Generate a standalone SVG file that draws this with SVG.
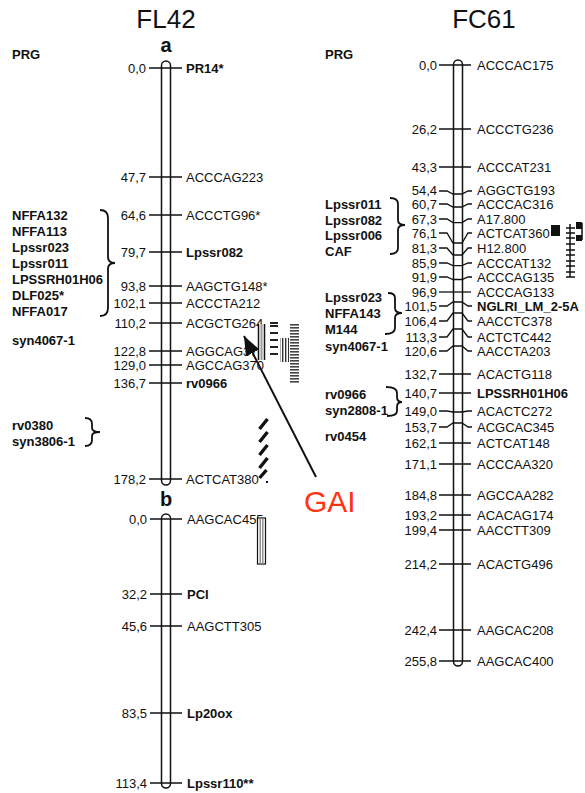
<svg xmlns="http://www.w3.org/2000/svg" width="585" height="793" viewBox="0 0 585 793">
<style>
text{font-family:"Liberation Sans",Arial,sans-serif;fill:#111}
.t{font-size:26px}
.n{font-size:13px}
.r{text-anchor:end}
.b{font-weight:bold}
.chr{fill:#fff;stroke:#111;stroke-width:1.5}
.tk{fill:none;stroke:#111;stroke-width:1.3}
.br{fill:none;stroke:#111;stroke-width:1.8}
</style>
<defs>
<marker id="ah" markerUnits="userSpaceOnUse" markerWidth="20" markerHeight="16" refX="19" refY="7.5" orient="auto">
<path d="M0,0 L19,7.5 L0,15 z" fill="#111"/>
</marker>
<pattern id="hstripe" patternUnits="userSpaceOnUse" width="10" height="3">
<rect width="10" height="3" fill="#fff"/><rect width="10" height="1.6" fill="#444"/>
</pattern>
<pattern id="vstripe" patternUnits="userSpaceOnUse" width="3" height="10">
<rect width="3" height="10" fill="#fff"/><rect width="1.4" height="10" fill="#333"/>
</pattern>
</defs>

<g id="titles">
<text class="t" x="166" y="28" text-anchor="middle">FL42</text>
<text class="t" x="484" y="28" text-anchor="middle">FC61</text>
<text x="166" y="52" text-anchor="middle" font-size="20" font-weight="bold">a</text>
<text x="166" y="506" text-anchor="middle" font-size="20" font-weight="bold">b</text>
<text class="n b" x="12" y="59">PRG</text>
<text class="n b" x="325" y="59">PRG</text>
</g>

<g id="FL42a">
<rect class="chr" x="161.5" y="61" width="9" height="424" rx="4.5"/>
<g class="tk">
<path d="M149 68H182M149 177H182M149 215H182M149 252H182M149 286H182M149 303H182M149 323H182M149 351H182M149 365H182M149 383H182M149 479H182"/>
</g>
<g class="n">
<text class="r" x="146" y="72.5">0,0</text><text class="b" x="186" y="72.5">PR14*</text>
<text class="r" x="146" y="181.5">47,7</text><text x="186" y="181.5">ACCCAG223</text>
<text class="r" x="146" y="219.5">64,6</text><text x="186" y="219.5">ACCCTG96*</text>
<text class="r" x="146" y="256.5">79,7</text><text class="b" x="186" y="256.5">Lpssr082</text>
<text class="r" x="146" y="290.5">93,8</text><text x="186" y="290.5">AAGCTG148*</text>
<text class="r" x="146" y="307.5">102,1</text><text x="186" y="307.5">ACCCTA212</text>
<text class="r" x="146" y="327.5">110,2</text><text x="186" y="327.5">ACGCTG264</text>
<text class="r" x="146" y="355.5">122,8</text><text x="186" y="355.5">AGGCAG370</text>
<text class="r" x="146" y="369.5">129,0</text><text x="186" y="369.5">AGCCAG370</text>
<text class="r" x="146" y="387.5">136,7</text><text class="b" x="186" y="387.5">rv0966</text>
<text class="r" x="146" y="483.5">178,2</text><text x="186" y="483.5">ACTCAT380</text>
</g>
</g>

<g id="FL42b">
<rect class="chr" x="161.5" y="514" width="9" height="274" rx="4.5"/>
<path class="tk" d="M150 519H182M150 594H182M150 626H182M150 713H182M150 783H182"/>
<g class="n">
<text class="r" x="147" y="523.5">0,0</text><text x="187" y="523.5">AAGCAC455</text>
<text class="r" x="147" y="598.5">32,2</text><text class="b" x="187" y="598.5">PCI</text>
<text class="r" x="147" y="630.5">45,6</text><text x="187" y="630.5">AAGCTT305</text>
<text class="r" x="147" y="717.5">83,5</text><text class="b" x="187" y="717.5">Lp20ox</text>
<text class="r" x="147" y="787.5">113,4</text><text class="b" x="187" y="787.5">Lpssr110**</text>
</g>
</g>

<g id="FL42-groups" class="n b">
<text x="12" y="220">NFFA132</text>
<text x="12" y="236">NFFA113</text>
<text x="12" y="252">Lpssr023</text>
<text x="12" y="268">Lpssr011</text>
<text x="12" y="284">LPSSRH01H06</text>
<text x="12" y="300">DLF025*</text>
<text x="12" y="316">NFFA017</text>
<text x="12" y="345">syn4067-1</text>
<text x="12" y="430">rv0380</text>
<text x="12" y="446">syn3806-1</text>
</g>

<g id="FL42-qtl">
<rect x="258" y="324" width="7" height="36" fill="#fff"/>
<path d="M258.5 324V360M264.5 324V360" stroke="#111" stroke-width="1.5"/>
<rect x="260.5" y="324" width="2" height="36" fill="#999"/>
<path d="M270 323H278M270 326H278M270 333H278M270 340H278M270 347H278M270 354H278" stroke="#222" stroke-width="2"/>
<rect x="280" y="338" width="9" height="24" fill="url(#vstripe)"/>
<rect x="290" y="323" width="9" height="60" fill="url(#hstripe)"/>
<rect x="259" y="418" width="9" height="59" fill="#fff"/>
<path d="M259.5 429L267.5 419M259.5 442L267.5 432M259.5 455L267.5 445M259.5 468L267.5 458M259.5 478L266.5 470" stroke="#111" stroke-width="3.4"/>
<rect x="266" y="481" width="2" height="2" fill="#111"/>
<rect x="257.5" y="518" width="8" height="46" fill="#fff" stroke="#111" stroke-width="1.2"/>
<path d="M260.2 518V564M262.8 518V564" stroke="#888" stroke-width="1.4"/>
</g>

<g id="FC61">
<rect class="chr" x="453.5" y="60" width="9" height="606" rx="4.5"/>
<g class="tk">
<path d="M439 65H471M439 129H471M439 167H471"/>
<path d="M439 191H447L453 194H462L468 191H472"/>
<path d="M439 204H447L453 207H462L468 204H472"/>
<path d="M439 219H447L453 222.6H462L468 219H472"/>
<path d="M439 233H447L453 243H462L468 233H472"/>
<path d="M439 248H447L453 255H462L468 248H472"/>
<path d="M439 263H447L453 265.6H462L468 263H472"/>
<path d="M439 277H447L453 279.5H462L468 277H472"/>
<path d="M439 292H471"/>
<path d="M439 306H447L453 302H462L468 306H472"/>
<path d="M439 321H447L453 313H462L468 321H472"/>
<path d="M439 337H447L453 329H462L468 337H472"/>
<path d="M439 351H447L453 346H462L468 351H472"/>
<path d="M439 374H471M439 393H471"/>
<path d="M439 411H447L453 412H462L468 411H472"/>
<path d="M439 427H447L453 423H462L468 427H472"/>
<path d="M439 443H471M439 464H471M439 495H471M439 515H471M439 530H471M439 564H471M439 630H471M439 661H471"/>
</g>
<g class="n">
<text class="r" x="437" y="69.5">0,0</text><text x="477" y="69.5">ACCCAC175</text>
<text class="r" x="437" y="133.5">26,2</text><text x="477" y="133.5">ACCCTG236</text>
<text class="r" x="437" y="171.5">43,3</text><text x="477" y="171.5">ACCCAT231</text>
<text class="r" x="437" y="195">54,4</text><text x="477" y="195">AGGCTG193</text>
<text class="r" x="437" y="208.5">60,7</text><text x="477" y="208.5">ACCCAC316</text>
<text class="r" x="437" y="223.5">67,3</text><text x="477" y="223.5">A17.800</text>
<text class="r" x="437" y="237.5">76,1</text><text x="477" y="237.5">ACTCAT360</text>
<text class="r" x="437" y="252.5">81,3</text><text x="477" y="252.5">H12.800</text>
<text class="r" x="437" y="267.5">85,9</text><text x="477" y="267.5">ACCCAT132</text>
<text class="r" x="437" y="281.5">91,9</text><text x="477" y="281.5">ACCCAG135</text>
<text class="r" x="437" y="296.5">96,9</text><text x="477" y="296.5">ACCCAG133</text>
<text class="r" x="437" y="310.5">101,5</text><text class="b" x="477" y="310.5">NGLRI_LM_2-5A</text>
<text class="r" x="437" y="325.5">106,4</text><text x="477" y="325.5">AACCTC378</text>
<text class="r" x="437" y="341.5">113,3</text><text x="477" y="341.5">ACTCTC442</text>
<text class="r" x="437" y="355.5">120,6</text><text x="477" y="355.5">AACCTA203</text>
<text class="r" x="437" y="378.5">132,7</text><text x="477" y="378.5">ACACTG118</text>
<text class="r" x="437" y="397.5">140,7</text><text class="b" x="477" y="397.5">LPSSRH01H06</text>
<text class="r" x="437" y="415.5">149,0</text><text x="477" y="415.5">ACACTC272</text>
<text class="r" x="437" y="431.5">153,7</text><text x="477" y="431.5">ACGCAC345</text>
<text class="r" x="437" y="447.5">162,1</text><text x="477" y="447.5">ACTCAT148</text>
<text class="r" x="437" y="468.5">171,1</text><text x="477" y="468.5">ACCCAA320</text>
<text class="r" x="437" y="499.5">184,8</text><text x="477" y="499.5">AGCCAA282</text>
<text class="r" x="437" y="519.5">193,2</text><text x="477" y="519.5">ACACAG174</text>
<text class="r" x="437" y="534.5">199,4</text><text x="477" y="534.5">AACCTT309</text>
<text class="r" x="437" y="568.5">214,2</text><text x="477" y="568.5">ACACTG496</text>
<text class="r" x="437" y="634.5">242,4</text><text x="477" y="634.5">AAGCAC208</text>
<text class="r" x="437" y="665.5">255,8</text><text x="477" y="665.5">AAGCAC400</text>
</g>
</g>

<g id="FC61-groups" class="n b">
<text x="325" y="209">Lpssr011</text>
<text x="325" y="225">Lpssr082</text>
<text x="325" y="240">Lpssr006</text>
<text x="325" y="256">CAF</text>
<text x="325" y="302">Lpssr023</text>
<text x="325" y="318">NFFA143</text>
<text x="325" y="334">M144</text>
<text x="325" y="351">syn4067-1</text>
<text x="325" y="399">rv0966</text>
<text x="325" y="415">syn2808-1</text>
<text x="325" y="441">rv0454</text>
</g>

<g id="FC61-qtl">
<rect x="551" y="225" width="9" height="11" fill="#111"/>
<path d="M570 224V277" stroke="#111" stroke-width="1.5"/>
<path d="M566 228H575M566 233H575M566 238H575M566 244H575M566 250H575M566 255H575M566 261H575M566 266H575M566 272H575M566 277H575" stroke="#111" stroke-width="1.3"/>
<rect x="576" y="222" width="6" height="7" fill="#111"/>
<rect x="576" y="235" width="6" height="6" fill="#111"/>
<path d="M582 223V240" stroke="#111" stroke-width="1.5"/>
</g>

<g id="connectors">
<path class="br" d="M100 210Q108 210 108 218V257Q108 263 115 263Q108 263 108 269V308Q108 316 100 316"/>
<path class="br" d="M85 418Q92 418 92 424V428Q92 432 100 432Q92 432 92 436V440Q92 446 85 446"/>
<path class="br" d="M390 198Q398 198 398 204V220Q398 225 405 225Q398 225 398 230V248Q398 254 390 254"/>
<path class="br" d="M388 293Q395 293 395 298V308Q395 313 402 313Q395 313 395 318V328Q395 334 385 334"/>
<path class="br" d="M386 387Q397 387 397 393V397Q397 402 402 402Q397 402 397 407V411Q397 416 387 416"/>
<line x1="316" y1="477" x2="244" y2="336" stroke="#111" stroke-width="2" marker-end="url(#ah)"/>
</g>

<g id="GAI">
<text x="304" y="512" font-size="30" style="fill:#ff3311">GAI</text>
</g>
</svg>
